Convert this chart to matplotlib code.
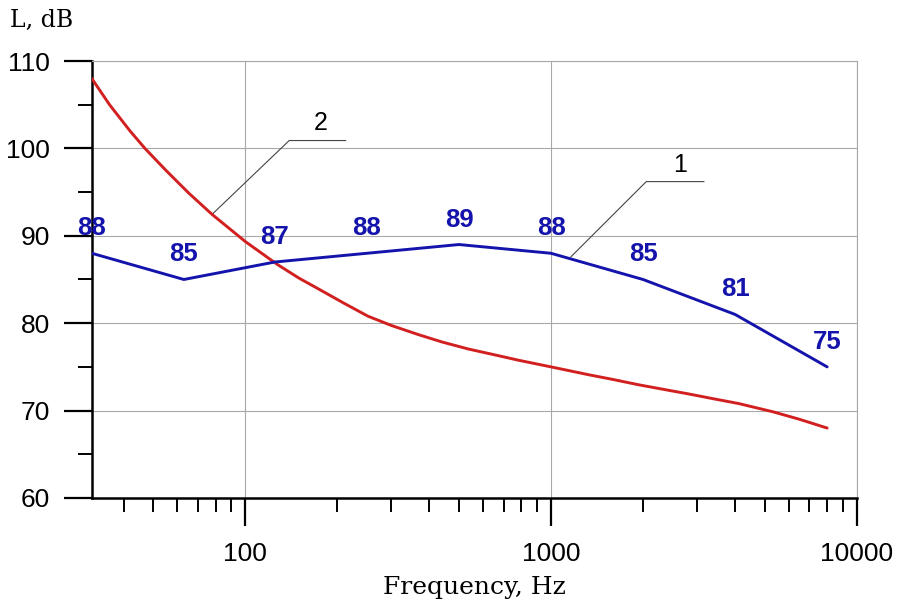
import matplotlib.pyplot as plt
from matplotlib.ticker import FixedLocator, LogLocator, NullFormatter

# octave-band levels, curve 1 (blue, labelled)
freq_1 = [31.5, 63, 125, 250, 500, 1000, 2000, 4000, 8000]
level_1 = [88, 85, 87, 88, 89, 88, 85, 81, 75]

# curve 2 (red)
freq_2 = [31.5, 36, 42, 47, 55, 65.3, 77.9, 100, 127, 150, 172, 210, 252,
          300, 368, 440, 536, 650, 786, 1000, 1329, 1600, 1937, 2400, 2824,
          3400, 4116, 5335, 6500, 8000]
level_2 = [108.0, 105.0, 102.0, 100.0, 97.5, 94.9, 92.45, 89.35, 86.75, 85.15,
           84.0, 82.3, 80.8, 79.75, 78.7, 77.85, 77.05, 76.4, 75.75, 75.0,
           74.1, 73.55, 72.95, 72.35, 71.9, 71.35, 70.8, 69.85, 69.0, 68.0]

x_ticks = [100, 1000, 10000]
y_ticks = [60, 70, 80, 90, 100, 110]

BLUE = "#1414ac"
RED = "#d21f1f"
GRID = "#a8a8a8"
LEADER = "#444444"

fig = plt.figure(figsize=(9, 6.07), dpi=100)
ax = fig.add_axes([0.102, 0.1796, 0.850, 0.7199])

ax.set_xscale("log")
ax.set_xlim(31.5, 10000)
ax.set_ylim(60, 110)

ax.plot(freq_2, level_2, color=RED, lw=2.1, zorder=3,
        solid_capstyle="round", solid_joinstyle="round")
ax.plot(freq_1, level_1, color=BLUE, lw=2.1, zorder=4,
        solid_capstyle="round", solid_joinstyle="round")

for f, v in zip(freq_1, level_1):
    ax.annotate(str(v), (f, v), xytext=(0, 18), textcoords="offset points",
                ha="center", va="center", color=BLUE, fontsize=18.5,
                fontweight="bold", family="Liberation Sans", zorder=5,
                annotation_clip=False)

# leader lines with curve numbers
ax.plot([77.9, 139.3, 213], [92.45, 100.9, 100.9], color=LEADER, lw=0.8, zorder=2)
ax.text(176.6, 102.9, "2", ha="center", va="center", fontsize=18,
        family="Liberation Sans")
ax.plot([1162, 2049, 3162], [87.6, 96.2, 96.2], color=LEADER, lw=0.8, zorder=2)
ax.text(2637, 98.1, "1", ha="center", va="center", fontsize=18,
        family="Liberation Sans")

# axes styling
ax.xaxis.set_major_locator(FixedLocator(x_ticks))
ax.xaxis.set_minor_locator(LogLocator(base=10, subs=range(2, 10)))
ax.xaxis.set_minor_formatter(NullFormatter())
ax.set_xticklabels([str(t) for t in x_ticks])
ax.yaxis.set_major_locator(FixedLocator(y_ticks))
ax.yaxis.set_minor_locator(FixedLocator([65, 75, 85, 95, 105]))

ax.grid(True, which="major", color=GRID, lw=0.8)
ax.set_axisbelow(True)

ax.tick_params(which="major", direction="out", length=20, width=1.6,
               labelsize=19, pad=10)
ax.tick_params(axis="x", which="major", pad=12)
ax.tick_params(which="minor", direction="out", length=10, width=1.4)
for lbl in ax.get_xticklabels() + ax.get_yticklabels():
    lbl.set_family("Liberation Sans")

for side in ("left", "bottom"):
    ax.spines[side].set_linewidth(1.8)
    ax.spines[side].set_color("black")
for side in ("top", "right"):
    ax.spines[side].set_linewidth(0.8)
    ax.spines[side].set_color(GRID)

ax.set_xlabel("Frequency, Hz", family="DejaVu Serif", fontsize=18, labelpad=7)
fig.text(0.011, 0.967, "L, dB", family="DejaVu Serif", fontsize=17,
         ha="left", va="center")

fig.savefig("out.png", dpi=100)
